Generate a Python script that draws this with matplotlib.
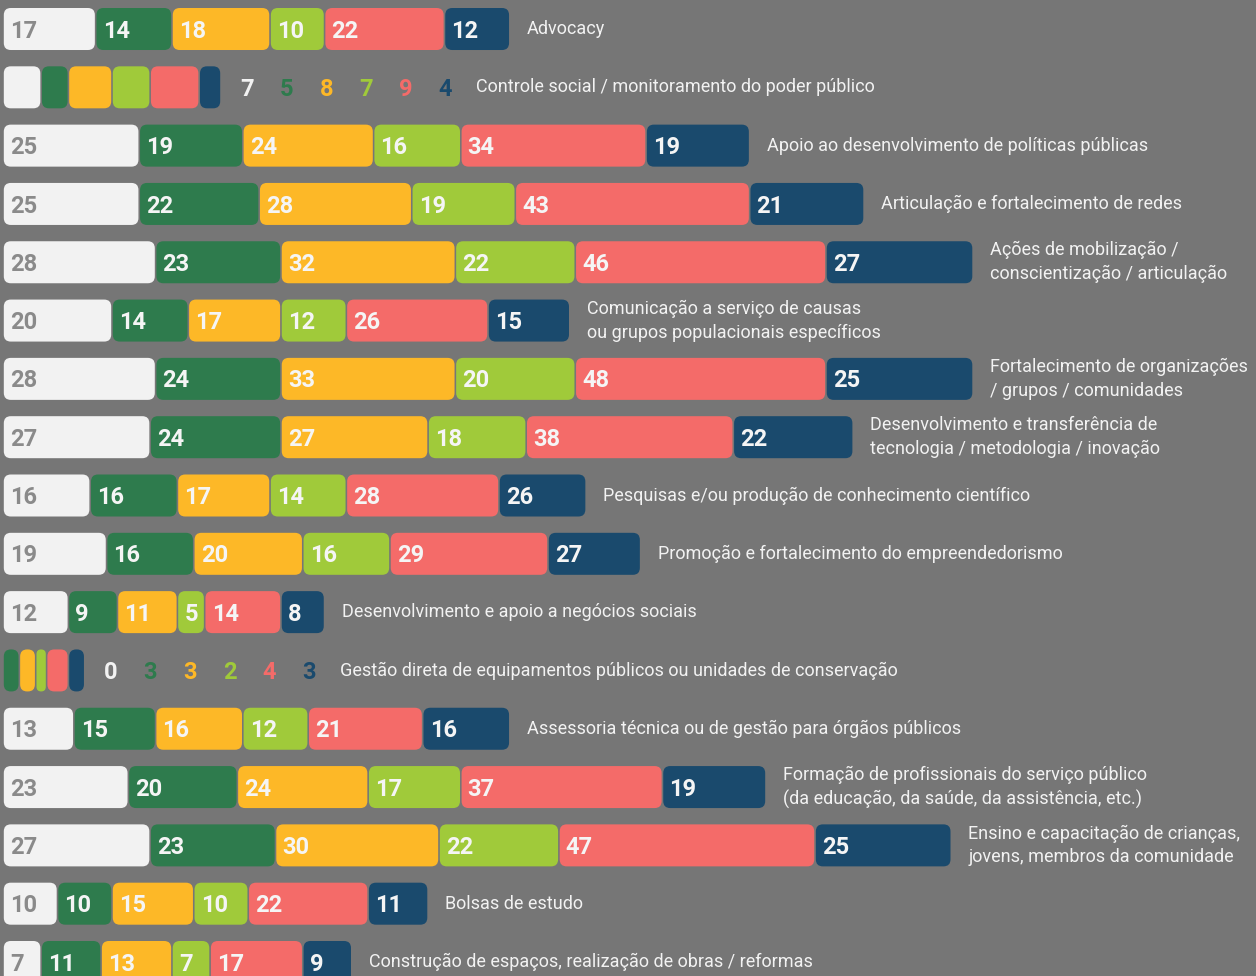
import matplotlib
matplotlib.use("Agg")
import matplotlib.pyplot as plt
from matplotlib.patches import FancyBboxPatch

categories = [
    "Advocacy",
    "Controle social / monitoramento do poder público",
    "Apoio ao desenvolvimento de políticas públicas",
    "Articulação e fortalecimento de redes",
    "Ações de mobilização /\nconscientização / articulação",
    "Comunicação a serviço de causas\nou grupos populacionais específicos",
    "Fortalecimento de organizações\n/ grupos / comunidades",
    "Desenvolvimento e transferência de\ntecnologia / metodologia / inovação",
    "Pesquisas e/ou produção de conhecimento científico",
    "Promoção e fortalecimento do empreendedorismo",
    "Desenvolvimento e apoio a negócios sociais",
    "Gestão direta de equipamentos públicos ou unidades de conservação",
    "Assessoria técnica ou de gestão para órgãos públicos",
    "Formação de profissionais do serviço público\n(da educação, da saúde, da assistência, etc.)",
    "Ensino e capacitação de crianças,\njovens, membros da comunidade",
    "Bolsas de estudo",
    "Construção de espaços, realização de obras / reformas",
]

# Bar lengths as drawn in the picture
white_vals = [17, 7, 25, 25, 28, 20, 28, 27, 16, 19, 12, 0, 13, 23, 27, 10, 7]
dkgreen_vals = [14, 5, 19, 22, 23, 14, 23, 24, 16, 16, 9, 3, 15, 20, 23, 10, 11]
yellow_vals = [18, 8, 24, 28, 32, 17, 32, 27, 17, 20, 11, 3, 16, 24, 30, 15, 13]
ltgreen_vals = [10, 7, 16, 19, 22, 12, 22, 18, 14, 16, 5, 2, 12, 17, 22, 10, 7]
salmon_vals = [22, 9, 34, 43, 46, 26, 46, 38, 28, 29, 14, 4, 21, 37, 47, 22, 17]
dkblue_vals = [12, 4, 19, 21, 27, 15, 27, 22, 16, 17, 8, 3, 16, 19, 25, 11, 9]

# Numbers printed on the bars (differ from bar length in a few places)
white_labels = [17, 7, 25, 25, 28, 20, 28, 27, 16, 19, 12, 0, 13, 23, 27, 10, 7]
dkgreen_labels = [14, 5, 19, 22, 23, 14, 24, 24, 16, 16, 9, 3, 15, 20, 23, 10, 11]
yellow_labels = [18, 8, 24, 28, 32, 17, 33, 27, 17, 20, 11, 3, 16, 24, 30, 15, 13]
ltgreen_labels = [10, 7, 16, 19, 22, 12, 20, 18, 14, 16, 5, 2, 12, 17, 22, 10, 7]
salmon_labels = [22, 9, 34, 43, 46, 26, 48, 38, 28, 29, 14, 4, 21, 37, 47, 22, 17]
dkblue_labels = [12, 4, 19, 21, 27, 15, 25, 22, 26, 27, 8, 3, 16, 19, 25, 11, 9]

series = [white_vals, dkgreen_vals, yellow_vals, ltgreen_vals, salmon_vals, dkblue_vals]
labels = [white_labels, dkgreen_labels, yellow_labels, ltgreen_labels, salmon_labels, dkblue_labels]
colors = ["#f2f2f2", "#2e7b4d", "#fdb827", "#a0ca3a", "#f46b69", "#1a4a6d"]
inside_text_colors = ["#8a8a8a", "#f5f5f5", "#f5f5f5", "#f5f5f5", "#f5f5f5", "#f5f5f5"]
BG = "#767676"

PX_X = 5.45   # pixels per unit along x
PX_Y = 58.3   # pixels per row
W, H = 1256, 976

fig = plt.figure(figsize=(W / 100, H / 100), dpi=100)
fig.patch.set_facecolor(BG)
ax = fig.add_axes([0, 0, 1, 1])
ax.set_facecolor(BG)
ax.set_xlim(-3 / PX_X, (W - 3) / PX_X)
ax.set_ylim(16 + (H - 962) / PX_Y, -29 / PX_Y)
ax.axis("off")

aspect = PX_X / PX_Y
bar_h = 42 / PX_Y
gap = 1.6 / PX_X
radius = 7 / PX_X
num_font = dict(family="Roboto", weight="bold", fontsize=17)
cat_font = dict(family="Roboto", weight="normal", fontsize=13)

for i, cat in enumerate(categories):
    vals = [s[i] for s in series]
    labs = [l[i] for l in labels]
    total = sum(vals)
    outside = total < 45
    left = 0
    for j, v in enumerate(vals):
        if v <= 0:
            continue
        x0 = left + gap / 2
        w = v - gap
        r = min(radius, w / 2)
        p = FancyBboxPatch((x0, i - bar_h / 2), w, bar_h,
                           boxstyle=f"round,pad=0,rounding_size={r}",
                           mutation_aspect=aspect, facecolor=colors[j],
                           edgecolor="none")
        ax.add_patch(p)
        if not outside:
            ax.annotate(str(labs[j]), (left, i), xytext=(5, -1.5), textcoords="offset points",
                        ha="left", va="center", color=inside_text_colors[j], **num_font)
        left += v
    if outside:
        off = 26 * 0.72
        for j, lab in enumerate(labs):
            ax.annotate(str(lab), (total, i), xytext=(off + j * 39.7 * 0.72, -1.5),
                        textcoords="offset points", ha="center", va="center",
                        color=colors[j], **num_font)
        tx = off + 5 * 39.7 * 0.72 + 31 * 0.72
    else:
        tx = 17 * 0.72
    ax.annotate(cat, (total, i), xytext=(tx, 0), textcoords="offset points",
                ha="left", va="center", color="#f2f2f2", linespacing=1.4, **cat_font)

fig.savefig("out.png", dpi=100, facecolor=BG)
